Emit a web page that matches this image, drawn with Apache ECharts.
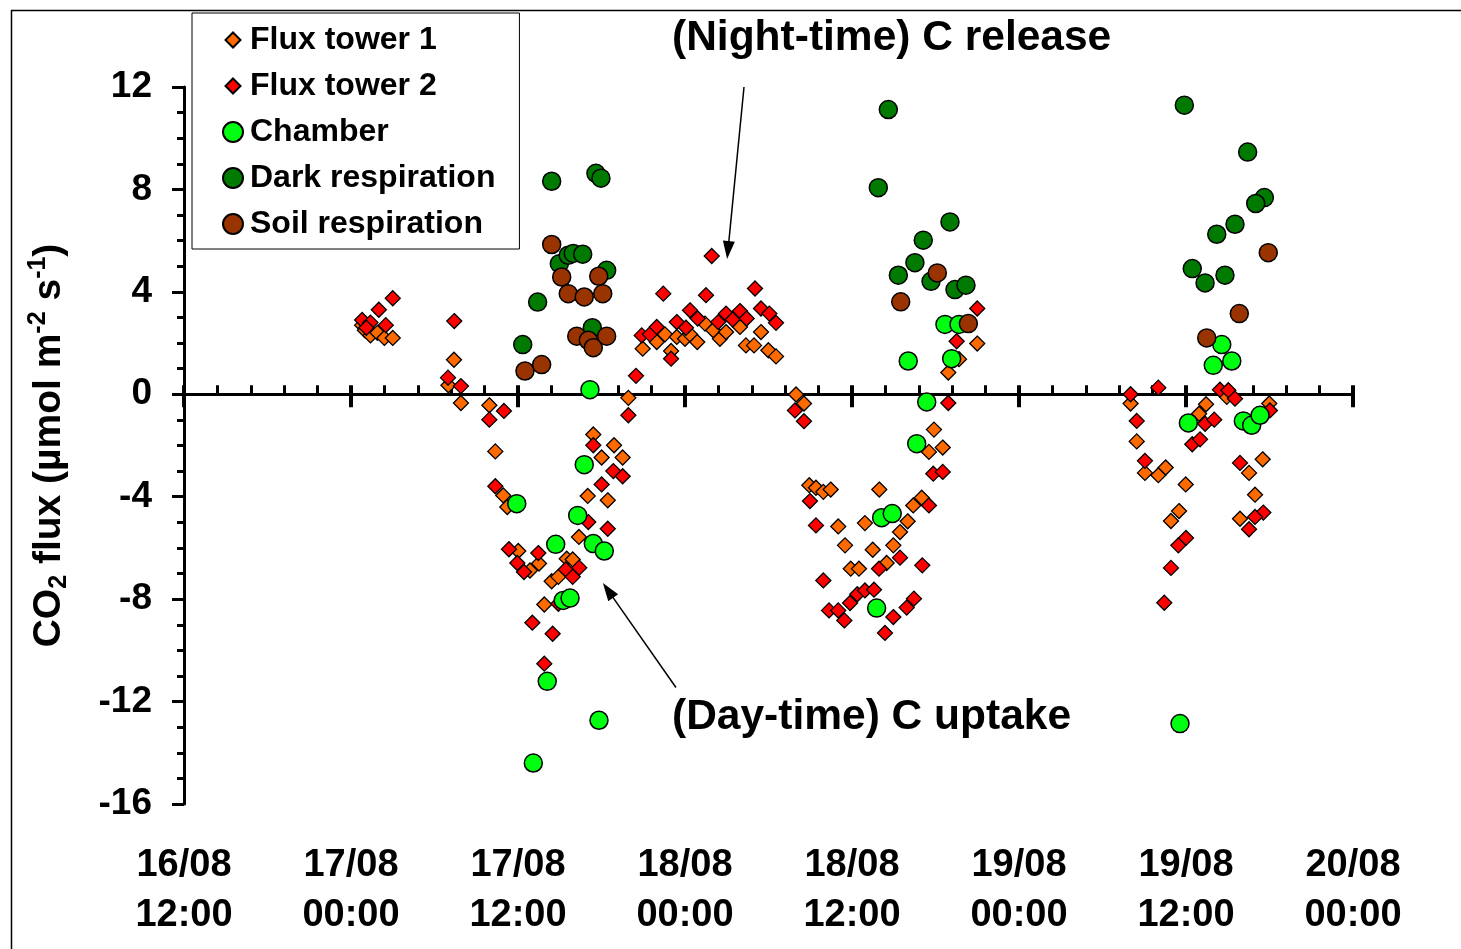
<!DOCTYPE html>
<html>
<head>
<meta charset="utf-8">
<script src="https://cdn.jsdelivr.net/npm/echarts@6/dist/echarts.min.js"></script>
<style>
html,body{margin:0;padding:0;background:#fff;}
#chart{width:1461px;height:949px;}
</style>
</head>
<body>
<div id="chart"></div>
<script>
// x values: hours since 16/08 00:00 ; y values: CO2 flux (µmol m-2 s-1)
const xTickLabels = ['16/08\n12:00','17/08\n00:00','17/08\n12:00','18/08\n00:00','18/08\n12:00','19/08\n00:00','19/08\n12:00','20/08\n00:00'];
const yTickValues = [-16,-12,-8,-4,0,4,8,12];
const seriesNames = ['Flux tower 1','Flux tower 2','Chamber','Dark respiration','Soil respiration'];

const fluxTower1 = [
 [24.8,2.7],[25.0,2.5],[25.4,2.3],[25.9,2.4],[26.4,2.2],[27.0,2.2],
 [31.4,1.35],[31.0,0.35],[31.9,-0.34],[33.94,-0.43],[34.37,-2.23],[34.94,-3.95],[35.23,-4.4],[36.02,-6.12],[36.86,-6.88],[37.51,-6.61],[37.89,-8.21],[38.42,-7.3],[38.90,-7.13],[39.50,-6.42],[39.93,-6.45],[40.38,-5.57],[41.01,-3.97],[41.41,-1.57],[42.01,-2.47],[42.45,-4.14],[42.90,-1.99],[43.52,-2.47],[43.93,-0.14],
 [44.96,1.78],[45.97,2.04],[46.56,2.34],[47.0,1.69],[47.41,2.24],[48.0,2.17],[48.36,2.34],[48.88,2.04],[49.44,2.76],[50.03,2.5],[50.51,2.17],[50.95,2.43],[51.95,2.63],[52.38,1.91],[52.96,1.91],[53.46,2.43],[53.99,1.72],[54.54,1.48],[55.98,-0.01],[56.55,-0.36],
 [56.93,-3.55],[57.41,-3.65],[57.94,-3.81],[58.47,-3.72],[61.96,-3.72],[59.01,-5.16],[60.93,-5.03],[64.00,-4.96],[64.40,-4.34],[65.01,-4.04],[63.45,-5.38],[59.50,-5.9],[61.49,-6.07],[62.97,-5.9],[59.91,-6.81],[60.50,-6.81],[62.49,-6.59],[65.89,-1.38],[65.53,-2.25],[66.52,-2.08],[69.0,1.98],[66.92,0.85],[67.69,1.37],
 [80.02,-0.36],[80.46,-1.84],[81.05,-3.07],[82.01,-3.16],[82.54,-2.86],[83.98,-3.52],[83.50,-4.56],[82.92,-4.95],[85.44,-0.39],[84.94,-0.76],[86.93,-0.1],[89.98,-0.36],[89.51,-2.54],[88.53,-3.07],[88.96,-3.92],[87.88,-4.86]
];
const fluxTower2 = [
 [24.8,2.9],[25.4,2.8],[26.0,3.3],[26.5,2.7],[27.0,3.75],[25.1,2.6],
 [31.42,2.86],[30.97,0.65],[31.9,0.32],[34.99,-0.65],[33.94,-0.99],[34.37,-3.59],[35.35,-6.05],[35.95,-6.59],[36.43,-6.94],[37.46,-6.2],[39.43,-6.84],[40.40,-6.77],[39.93,-7.13],[38.90,-8.18],[37.03,-8.92],[38.49,-9.35],[37.89,-10.52],[43.93,-0.82],[41.41,-1.99],[42.85,-3.0],[43.52,-3.2],[42.01,-3.52],[41.05,-4.99],[42.45,-5.25],
 [44.48,0.72],[44.89,2.3],[45.48,2.34],[45.97,2.63],[46.44,3.93],[47.41,2.82],[47.0,1.39],[48.07,2.6],[48.36,3.28],[48.91,2.96],[49.51,3.87],[49.92,5.4],[50.39,2.82],[50.95,3.15],[51.43,2.92],[51.95,3.25],[52.43,2.96],[53.03,4.13],[53.46,3.35],[54.06,3.15],[54.54,2.79],[55.90,-0.63],[56.55,-1.05],
 [56.98,-4.17],[57.41,-5.12],[63.45,-6.38],[61.94,-6.81],[65.05,-6.68],[57.94,-7.27],[58.35,-8.44],[59.01,-8.44],[59.45,-8.83],[59.86,-8.15],[60.38,-7.81],[60.93,-7.66],[61.58,-7.63],[62.97,-8.7],[62.37,-9.32],[63.93,-8.33],[64.45,-7.98],[66.92,-0.34],[65.84,-3.1],[66.52,-3.03],[65.53,-4.34],[69.0,3.35],[67.52,2.07],
 [80.02,0.0],[82.01,0.26],[80.46,-1.04],[81.05,-2.6],[84.00,-5.61],[83.45,-5.9],[82.92,-6.78],[82.44,-8.14],[85.37,-1.15],[86.03,-0.99],[84.45,-1.95],[85.01,-1.76],[86.44,0.18],[87.04,0.16],[87.52,-0.17],[90.03,-0.63],[87.88,-2.68],[89.56,-4.62],[88.96,-4.79],[88.53,-5.27]
];
const chamber = [
 [35.91,-4.27],[38.71,-5.86],[39.25,-8.05],[39.74,-7.96],[38.10,-11.21],[41.82,-12.73],[37.10,-14.4],[41.17,0.18],[40.76,-2.75],[40.29,-4.73],[41.41,-5.83],[42.20,-6.12],
 [62.13,-4.82],[62.89,-4.66],[61.77,-8.35],[65.37,-0.3],[64.65,-1.93],[64.04,1.3],[66.68,2.73],[67.69,2.73],[67.16,1.39],
 [86.57,1.94],[85.96,1.13],[87.29,1.3],[84.17,-1.12],[88.12,-1.04],[88.72,-1.21],[89.32,-0.82],[83.57,-12.86]
];
const darkRespiration = [
 [36.34,1.94],[37.41,3.6],[38.42,8.32],[38.97,5.1],[39.61,5.43],[39.97,5.5],[40.65,5.47],[41.34,2.6],[41.60,8.63],[41.96,8.44],[42.37,4.84],
 [62.61,11.12],[61.89,8.07],[67.04,6.73],[65.12,6.02],[64.52,5.14],[63.33,4.65],[65.68,4.41],[67.40,4.09],[68.19,4.26],
 [83.88,11.29],[88.43,9.46],[89.63,7.68],[89.01,7.45],[87.52,6.64],[86.21,6.25],[84.45,4.91],[85.37,4.35],[86.80,4.65]
];
const soilRespiration = [
 [36.50,0.91],[37.70,1.16],[38.42,5.85],[39.14,4.58],[39.61,3.93],[40.22,2.27],[40.76,3.8],[41.05,2.11],[41.41,1.82],[41.80,4.61],[42.09,3.93],[42.37,2.27],
 [66.13,4.74],[63.50,3.61],[68.36,2.76],
 [89.91,5.53],[87.83,3.15],[85.49,2.2]
];
// annotation arrows (data coords): [from, to]
const nightArrow = [[52.24,12.0],[51.09,5.63]];
const dayArrow = [[47.35,-11.45],[42.47,-7.66]];

const FONT = "'Liberation Sans', Arial, sans-serif";
const xMin = 12, xMax = 96, xStep = 12;
const yMin = -16, yMax = 12, yStep = 4;

const chart = echarts.init(document.getElementById('chart'), null, {renderer:'canvas'});

function scatter(name, data, symbol, size, color, bw){
  return {
    name, type:'scatter', data, symbol, symbolSize:size,
    itemStyle:{color, borderColor:'#000', borderWidth:bw, opacity:1},
    emphasis:{disabled:true}, animation:false
  };
}
const diamondIcon = 'path://M0,0M20,20M10,2.5L17.5,10L10,17.5L2.5,10Z';

const baseX = {type:'value', min:xMin, max:xMax, interval:xStep, splitLine:{show:false}};

const option = {
  animation:false,
  backgroundColor:'#fff',
  grid:{left:184, right:108, top:87, bottom:145},
  legend:{
    orient:'vertical', left:192, top:13,
    padding:[11,24,9,30],
    borderColor:'#000', borderWidth:1,
    itemWidth:20, itemHeight:20, itemGap:14,
    textStyle:{fontFamily:FONT, fontWeight:'bold', fontSize:32, color:'#000', lineHeight:30, padding:[0,0,0,2]},
    data:[
      {name:seriesNames[0], icon:diamondIcon},
      {name:seriesNames[1], icon:diamondIcon},
      {name:seriesNames[2], icon:'circle'},
      {name:seriesNames[3], icon:'circle'},
      {name:seriesNames[4], icon:'circle'}
    ]
  },
  xAxis:[
    Object.assign({}, baseX, {
      position:'bottom',
      axisLine:{onZero:true, onZeroAxisIndex:0, lineStyle:{color:'#000', width:3}},
      axisTick:{inside:true, length:9, lineStyle:{width:4, color:'#000'}},
      minorTick:{show:true, splitNumber:5, length:9, lineStyle:{width:3, color:'#000'}},
      axisLabel:{show:false}
    }),
    Object.assign({}, baseX, {
      position:'top',
      axisLine:{onZero:true, onZeroAxisIndex:1, lineStyle:{color:'#000', width:3}},
      axisTick:{inside:true, length:13, lineStyle:{width:4, color:'#000'}},
      axisLabel:{show:false}
    }),
    Object.assign({}, baseX, {
      position:'bottom',
      axisLine:{show:false, onZero:false},
      axisTick:{show:false},
      axisLabel:{
        margin:37, fontFamily:FONT, fontWeight:'bold', fontSize:38, color:'#000', lineHeight:50,
        formatter:(v)=> xTickLabels[Math.round((v - xMin)/xStep)]
      }
    })
  ],
  yAxis:[{
    type:'value', min:yMin, max:yMax, interval:yStep, position:'left',
    splitLine:{show:false},
    axisLine:{onZero:false, lineStyle:{color:'#000', width:3}},
    axisTick:{length:12, lineStyle:{width:3, color:'#000'}},
    minorTick:{show:true, splitNumber:4, length:7, lineStyle:{width:3, color:'#000'}},
    axisLabel:{margin:32, fontFamily:FONT, fontWeight:'bold', fontSize:37, color:'#000',
      formatter:(v)=> yTickValues.includes(v) ? String(v) : ''},
    name:'{n|CO}{sub|2}{n| flux (µmol m}{sup|-2}{n| s}{sup|-1}{n|)}',
    nameLocation:'middle', nameGap:112,
    nameTextStyle:{
      fontFamily:FONT, fontWeight:'bold', fontSize:39, color:'#000',
      rich:{
        n:{fontFamily:FONT, fontWeight:'bold', fontSize:39, color:'#000', lineHeight:46},
        sub:{fontFamily:FONT, fontWeight:'bold', fontSize:25, color:'#000', lineHeight:25, verticalAlign:'bottom'},
        sup:{fontFamily:FONT, fontWeight:'bold', fontSize:25, color:'#000', lineHeight:25, verticalAlign:'top'}
      }
    }
  },{
    type:'value', min:yMin, max:yMax, interval:yStep, position:'right', show:false,
    splitLine:{show:false}
  }],
  series:[
    scatter(seriesNames[0], fluxTower1, 'diamond', 15, '#FF6A00', 1.3),
    scatter(seriesNames[1], fluxTower2, 'diamond', 15, '#FF0000', 1.3),
    scatter(seriesNames[2], chamber, 'circle', 18, '#00FF10', 1.5),
    scatter(seriesNames[3], darkRespiration, 'circle', 18, '#007A00', 1.5),
    scatter(seriesNames[4], soilRespiration, 'circle', 18, '#993300', 1.5),
    {
      type:'scatter', data:[], silent:true,
      markLine:{
        silent:true, animation:false,
        symbol:['none','triangle'], symbolSize:[12,18],
        lineStyle:{color:'#000', width:1.5, type:'solid'},
        label:{show:false},
        data:[
          [{coord:nightArrow[0]},{coord:nightArrow[1]}],
          [{coord:dayArrow[0]},{coord:dayArrow[1]}]
        ]
      }
    }
  ],
  graphic:[
    {type:'rect', left:9, top:8, silent:true, z:-1,
      shape:{width:1470, height:960}, style:{fill:'none', stroke:'#000', lineWidth:1.5}},
    {type:'text', left:672, top:17, silent:true,
      style:{text:'(Night-time) C release', font:"bold 42.5px "+FONT, fill:'#000'}},
    {type:'text', left:672, top:696, silent:true,
      style:{text:'(Day-time) C uptake', font:"bold 42.5px "+FONT, fill:'#000'}}
  ]
};
chart.setOption(option);
</script>
</body>
</html>
